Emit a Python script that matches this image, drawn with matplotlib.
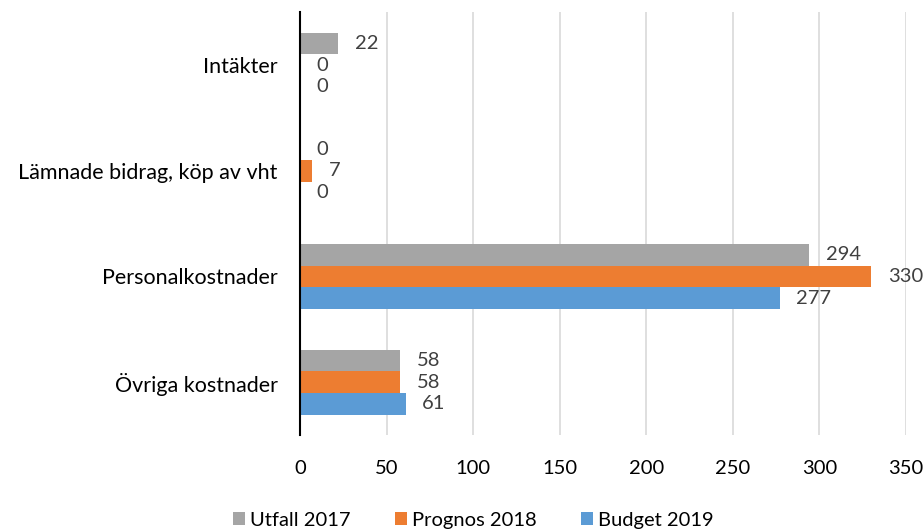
import numpy as np
import matplotlib
matplotlib.use('Agg')
import matplotlib.pyplot as plt

plt.rcParams['font.family'] = ['Lato', 'DejaVu Sans']

# Data
categories = ['Intäkter', 'Lämnade bidrag, köp av vht', 'Personalkostnader', 'Övriga kostnader']
series_names = ['Utfall 2017', 'Prognos 2018', 'Budget 2019']
utfall_2017 = [22, 0, 294, 58]
prognos_2018 = [0, 7, 330, 58]
budget_2019 = [0, 0, 277, 61]
x_ticks = [0, 50, 100, 150, 200, 250, 300, 350]

colors = ['#A5A5A5', '#ED7D31', '#5B9BD5']
fs = 14.5

fig = plt.figure(figsize=(9.23, 5.31), dpi=100)
ax = fig.add_axes([0.325, 0.181, 0.6566, 0.796])

y = np.arange(len(categories))
bar_h = 0.205
offsets = [-bar_h, 0, bar_h]

for values, name, color, off in zip([utfall_2017, prognos_2018, budget_2019], series_names, colors, offsets):
    ax.barh(y + off, values, height=bar_h, color=color, label=name, zorder=2)
    for v, yy in zip(values, y + off):
        ax.annotate(str(v), (v, yy), xytext=(12, 0), textcoords='offset points',
                    ha='left', va='center', fontsize=fs, color='#404040',
                    annotation_clip=False)

ax.set_ylim(len(categories) - 0.5, -0.5)
ax.set_xlim(0, 350)
ax.set_xticks(x_ticks)
ax.set_yticks(y)
ax.set_yticklabels(categories)

ax.tick_params(axis='both', length=0, labelsize=fs, colors='#000000')
ax.tick_params(axis='y', pad=16, labelsize=15.5)
ax.tick_params(axis='x', pad=18)

ax.grid(axis='x', color='#D9D9D9', linewidth=1.2, zorder=0)
ax.set_axisbelow(True)

for side in ['top', 'right', 'bottom']:
    ax.spines[side].set_visible(False)
ax.spines['left'].set_linewidth(1.5)
ax.spines['left'].set_zorder(3)

fig.legend(loc='lower center', bbox_to_anchor=(0.513, -0.03), ncol=3, frameon=False,
           fontsize=fs, handlelength=0.6, handleheight=0.6, handletextpad=0.25,
           columnspacing=2.2)

fig.savefig('out.png', dpi=100)
